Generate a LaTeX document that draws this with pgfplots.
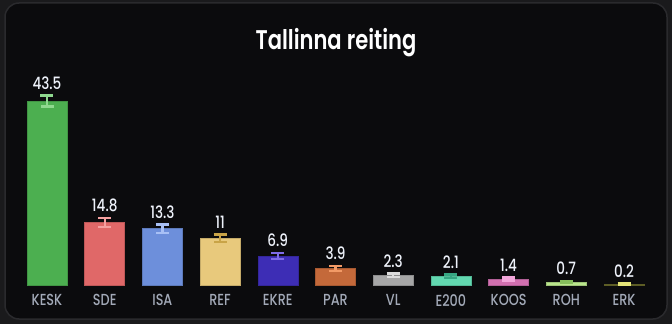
\documentclass[border=0pt]{standalone}
\usepackage{fontspec}
\setmainfont{Poppins}[FakeStretch=0.8]
\newfontfamily\medfont{Poppins Medium}[FakeStretch=0.8]
\newfontfamily\semifont{Poppins SemiBold}[FakeStretch=0.78]
\usepackage{pgfplots}
\pgfplotsset{compat=1.18}
\definecolor{bgouter}{HTML}{1A1A1C}
\definecolor{bg}{HTML}{0B0B0D}
\definecolor{panel}{HTML}{2A2A2D}
\definecolor{ticklab}{HTML}{A3AAB8}
\definecolor{vallab}{HTML}{EEF2FA}
\definecolor{cA}{HTML}{4CAF50}\definecolor{eA}{HTML}{8FD98F}
\definecolor{cB}{HTML}{E06868}\definecolor{eB}{HTML}{F5A0A0}
\definecolor{cC}{HTML}{6D8FDB}\definecolor{eC}{HTML}{A8C0F5}
\definecolor{cD}{HTML}{E8C97C}\definecolor{eD}{HTML}{C9A447}
\definecolor{cE}{HTML}{3D2DB5}\definecolor{eE}{HTML}{7E6CE6}
\definecolor{cF}{HTML}{C4693A}\definecolor{eF}{HTML}{F29A66}
\definecolor{cG}{HTML}{A6A6A6}\definecolor{eG}{HTML}{DCDCDC}
\definecolor{cH}{HTML}{62D8B0}\definecolor{eH}{HTML}{36A682}
\definecolor{cI}{HTML}{D270B0}\definecolor{eI}{HTML}{F2A6DA}
\definecolor{cJ}{HTML}{BAE68C}\definecolor{eJ}{HTML}{86BE5C}
\definecolor{cK}{HTML}{6E6E2C}\definecolor{eK}{HTML}{E4E478}
\newcommand{\partybar}[5]{%
  \addplot[ybar, bar width=40pt, bar shift=0pt, fill=#4, draw=#4!85!black, line width=0.6pt,
    error bars/.cd, y dir=both, y explicit,
    error bar style={#5, line width=2.4pt},
    error mark options={rotate=90, mark size=6.5pt, #5, line width=2.4pt}]
    coordinates {(#1,#2) +- (0,#3)};}
\begin{document}
\begin{tikzpicture}[x=1pt,y=1pt]
\fill[bgouter] (0,0) rectangle (672,324);
\draw[panel, line width=1.5pt, fill=bg, rounded corners=14pt] (5,5) rectangle (667,321);
\node[font=\semifont\fontsize{27}{30}\selectfont, text=white] at (336,281) {Tallinna reiting};
\begin{axis}[
  at={(18.15pt,39pt)}, anchor=south west,
  scale only axis, width=634.7pt, height=211.5pt,
  xmin=-0.5, xmax=10.5, ymin=0, ymax=50,
  axis line style={draw=none},
  major tick length=0pt,
  ytick=\empty,
  xtick={0,...,10},
  xticklabels={KESK,SDE,ISA,REF,EKRE,PAR,VL,E200,KOOS,ROH,ERK},
  xticklabel style={font=\medfont\fontsize{16}{17}\selectfont, text=ticklab, yshift=-6pt},
  clip=false,
]
\partybar{0}{43.5}{1.3}{cA}{eA}
\partybar{1}{14.8}{1.05}{cB}{eB}
\partybar{2}{13.3}{1.0}{cC}{eC}
\partybar{3}{11}{0.9}{cD}{eD}
\partybar{4}{6.9}{0.7}{cE}{eE}
\partybar{5}{3.9}{0.55}{cF}{eF}
\partybar{6}{2.3}{0.45}{cG}{eG}
\partybar{7}{2.1}{0.4}{cH}{eH}
\partybar{8}{1.4}{0.35}{cI}{eI}
\partybar{9}{0.7}{0.25}{cJ}{eJ}
\partybar{10}{0.2}{0.12}{cK}{eK}
\addplot[draw=none, mark=none, nodes near coords, point meta=explicit symbolic,
  nodes near coords style={anchor=south, inner sep=0pt, yshift=6pt, text=vallab,
  font=\medfont\fontsize{17}{18}\selectfont}]
  coordinates {(0,44.8)[43.5] (1,15.85)[14.8] (2,14.3)[13.3] (3,11.9)[11]
  (4,7.6)[6.9] (5,4.45)[3.9] (6,2.75)[2.3] (7,2.5)[2.1] (8,1.75)[1.4]
  (9,0.95)[0.7] (10,0.32)[0.2]};
\end{axis}
\end{tikzpicture}
\end{document}
